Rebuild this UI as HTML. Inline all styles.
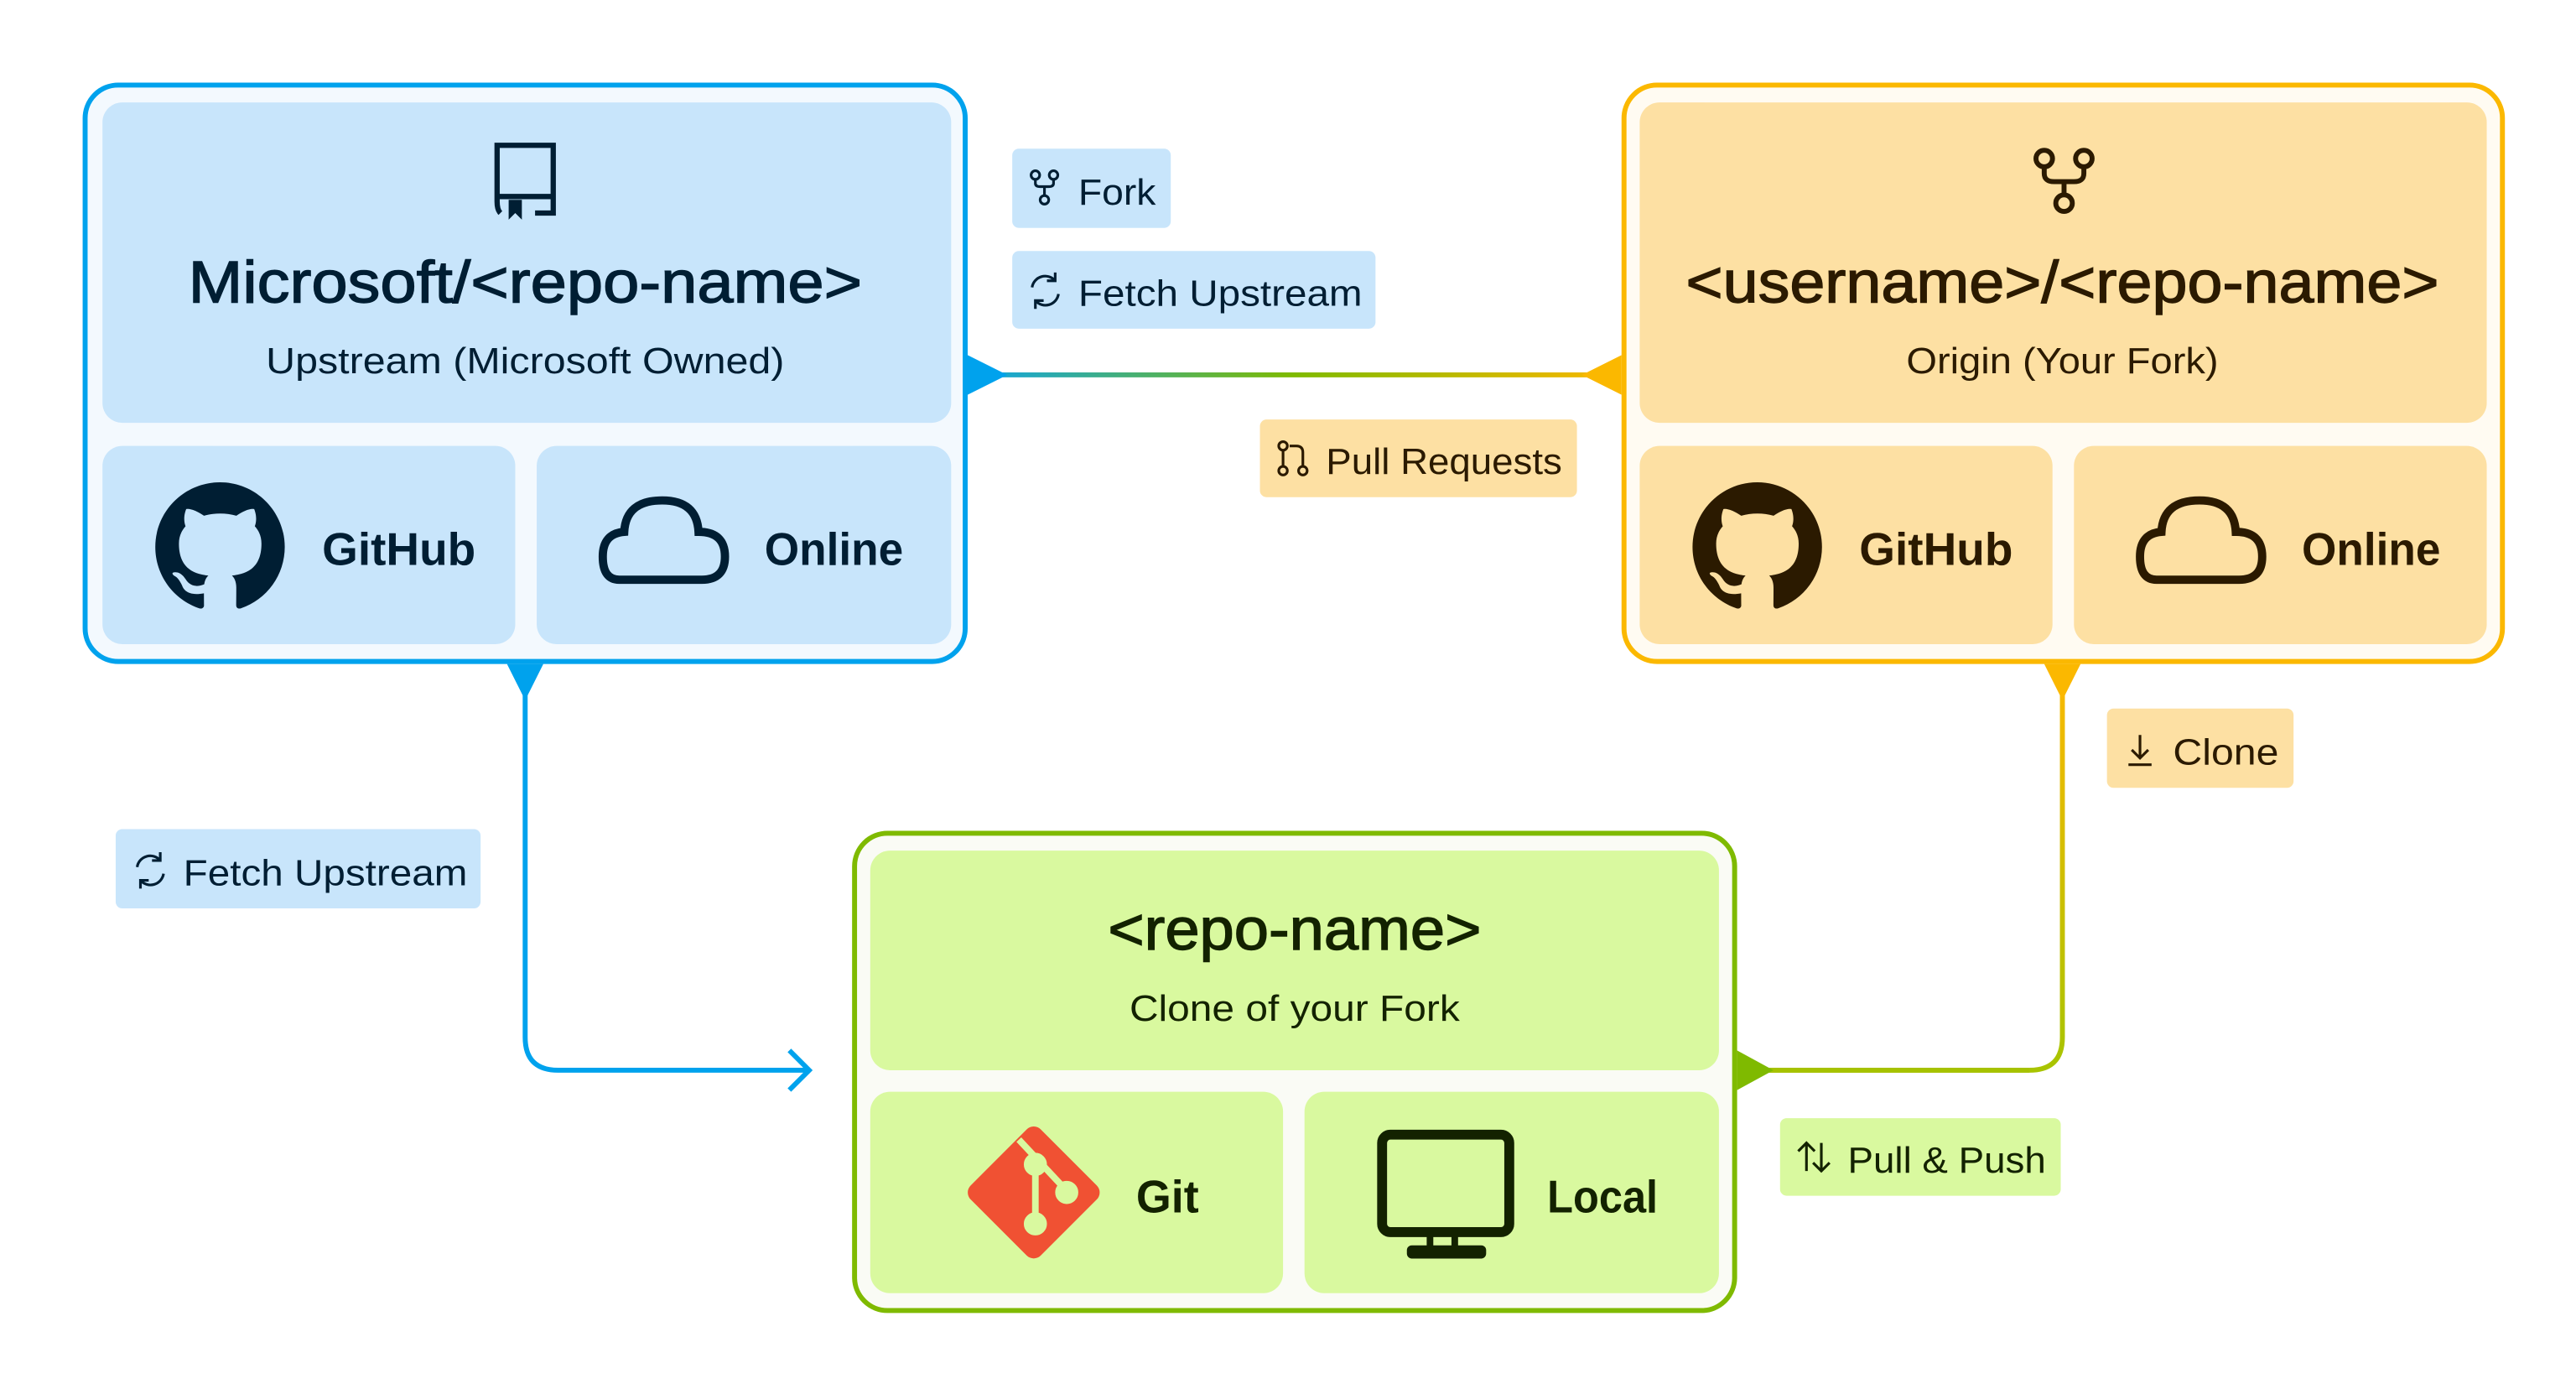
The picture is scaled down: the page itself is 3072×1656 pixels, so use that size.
<!DOCTYPE html>
<html><head><meta charset="utf-8"><style>html,body{margin:0;padding:0;background:#fff}svg{display:block}</style></head>
<body>
<svg width="3072" height="1656" viewBox="0 0 1560 841" xmlns="http://www.w3.org/2000/svg" font-family="Liberation Sans, sans-serif">
<defs>
<linearGradient id="g1" x1="586" y1="0" x2="982" y2="0" gradientUnits="userSpaceOnUse"><stop offset="0" stop-color="#0ea5e9"/><stop offset="0.5" stop-color="#7fba00"/><stop offset="1" stop-color="#fbb800"/></linearGradient>
<linearGradient id="g2" x1="0" y1="402" x2="0" y2="648" gradientUnits="userSpaceOnUse"><stop offset="0" stop-color="#fbb800"/><stop offset="1" stop-color="#a8c400"/></linearGradient>
</defs>

<line x1="600" y1="227" x2="970" y2="227" stroke="url(#g1)" stroke-width="3"/>
<polygon points="586,215 610,227 586,239" fill="#00a2ed"/>
<polygon points="982,215 958,227 982,239" fill="#fbb800"/>

<path d="M318,410 V628 Q318,648 338,648 H490" fill="none" stroke="#00a2ed" stroke-width="3"/>
<polyline points="478,636 490,648 478,660" fill="none" stroke="#00a2ed" stroke-width="3"/>
<polygon points="307,402 329,402 318,424" fill="#00a2ed"/>

<path d="M1249,410 V628 Q1249,648 1229,648 H1060" fill="none" stroke="url(#g2)" stroke-width="3"/>
<line x1="1229" y1="648" x2="1060" y2="648" stroke="#a6c200" stroke-width="3"/>
<polygon points="1238,402 1260,402 1249,424" fill="#fbb800"/>
<polygon points="1052,636 1074,648 1052,660" fill="#7fba00"/>

<rect x="51.5" y="51.5" width="533" height="349" rx="20" fill="#f3f9fe" stroke="#00a2ed" stroke-width="3"/>
<rect x="62" y="62" width="514" height="194" rx="12" fill="#c8e5fb"/>
<rect x="62" y="270" width="250" height="120" rx="12" fill="#c8e5fb"/>
<rect x="325" y="270" width="251" height="120" rx="12" fill="#c8e5fb"/>
<g fill="none" stroke="#001e33" stroke-width="3.2">
<path d="M303,129 Q301,127 301,122 V88 H335 V129 H324"/><line x1="301" y1="119" x2="335" y2="119"/>
</g>
<polygon points="308,121 316,121 316,133 312,129 308,133" fill="#001e33"/>
<text x="318" y="183" text-anchor="middle" font-size="36" fill="#001e33" stroke="#001e33" stroke-width="0.7" textLength="408" lengthAdjust="spacingAndGlyphs">Microsoft/&lt;repo-name&gt;</text>
<text x="318" y="226" text-anchor="middle" font-size="22" fill="#001e33" textLength="314" lengthAdjust="spacingAndGlyphs">Upstream (Microsoft Owned)</text>
<g transform="translate(94,292) scale(4.9)" fill="#001e33"><path d="M8 0C3.58 0 0 3.58 0 8c0 3.54 2.29 6.53 5.47 7.59.4.07.55-.17.55-.38 0-.19-.01-.82-.01-1.490-2.01.37-2.53-.49-2.69-.94-.09-.23-.48-.94-.82-1.130-.28-.15-.68-.52-.01-.53.63-.01 1.08.58 1.23.82.72 1.21 1.87.87 2.33.66.07-.52.28-.87.51-1.070-1.78-.2-3.64-.89-3.64-3.95 0-.87.31-1.59.82-2.15-.08-.2-.36-1.020.08-2.12 0 0 .67-.21 2.2.82.64-.18 1.32-.27 2-.27.68 0 1.36.09 2 .27 1.53-1.04 2.2-.82 2.2-.82.44 1.1.16 1.92.08 2.12.51.56.82 1.27.82 2.15 0 3.07-1.87 3.75-3.65 3.950.29.25.54.73.54 1.48 0 1.07-.01 1.93-.01 2.2 0 .21.15.46.55.38A8.013 8.013 0 0016 8c0-4.42-3.58-8-8-8z"/></g>
<text x="195" y="342" font-size="28" font-weight="bold" fill="#001e33" textLength="93" lengthAdjust="spacingAndGlyphs">GitHub</text>
<path d="M375,351 H425 Q439,351 439,337 Q439,322 423,322 Q422,303 401,303 Q379,303 378,322 Q365,323 365,337 Q365,351 375,351 Z" fill="none" stroke="#001e33" stroke-width="5"/>
<text x="463" y="342" font-size="28" font-weight="bold" fill="#001e33" textLength="84" lengthAdjust="spacingAndGlyphs">Online</text>

<rect x="983.5" y="51.5" width="532" height="349" rx="20" fill="#fffbf2" stroke="#fbb800" stroke-width="3"/>
<rect x="993" y="62" width="513" height="194" rx="12" fill="#fde0a3"/>
<rect x="993" y="270" width="250" height="120" rx="12" fill="#fde0a3"/>
<rect x="1256" y="270" width="250" height="120" rx="12" fill="#fde0a3"/>
<g fill="none" stroke="#2b1a00" stroke-width="3">
<circle cx="1238" cy="96" r="5"/><circle cx="1262" cy="96" r="5"/><circle cx="1250" cy="123" r="5"/>
<path d="M1238,101 V105 Q1238,110 1244,110 H1256 Q1262,110 1262,105 V101 M1250,110 V118"/>
</g>
<text x="1249" y="183" text-anchor="middle" font-size="36" fill="#2b1a00" stroke="#2b1a00" stroke-width="0.7" textLength="456" lengthAdjust="spacingAndGlyphs">&lt;username&gt;/&lt;repo-name&gt;</text>
<text x="1249" y="226" text-anchor="middle" font-size="22" fill="#2b1a00" textLength="189" lengthAdjust="spacingAndGlyphs">Origin (Your Fork)</text>
<g transform="translate(1025,292) scale(4.9)" fill="#2b1a00"><path d="M8 0C3.58 0 0 3.58 0 8c0 3.54 2.29 6.53 5.47 7.59.4.07.55-.17.55-.38 0-.19-.01-.82-.01-1.49-2.01.37-2.53-.49-2.69-.94-.09-.23-.48-.94-.82-1.13-.28-.15-.68-.52-.01-.53.63-.01 1.08.58 1.23.82.72 1.21 1.87.87 2.33.66.07-.52.28-.87.51-1.07-1.78-.2-3.64-.89-3.64-3.95 0-.87.31-1.59.82-2.15-.08-.2-.36-1.02.08-2.12 0 0 .67-.21 2.2.82.64-.18 1.32-.27 2-.27.68 0 1.36.09 2 .27 1.53-1.04 2.2-.82 2.2-.82.44 1.1.16 1.92.08 2.12.51.56.82 1.27.82 2.15 0 3.07-1.87 3.75-3.65 3.95.29.25.54.73.54 1.48 0 1.07-.01 1.93-.01 2.2 0 .21.15.46.55.38A8.013 8.013 0 0016 8c0-4.42-3.58-8-8-8z"/></g>
<text x="1126" y="342" font-size="28" font-weight="bold" fill="#2b1a00" textLength="93" lengthAdjust="spacingAndGlyphs">GitHub</text>
<path d="M1306,351 H1356 Q1370,351 1370,337 Q1370,322 1354,322 Q1353,303 1332,303 Q1310,303 1309,322 Q1296,323 1296,337 Q1296,351 1306,351 Z" fill="none" stroke="#2b1a00" stroke-width="5"/>
<text x="1394" y="342" font-size="28" font-weight="bold" fill="#2b1a00" textLength="84" lengthAdjust="spacingAndGlyphs">Online</text>

<rect x="517.5" y="504.5" width="533" height="289" rx="20" fill="#fafbf5" stroke="#7fba00" stroke-width="3"/>
<rect x="527" y="515" width="514" height="133" rx="12" fill="#d9f99f"/>
<rect x="527" y="661" width="250" height="122" rx="12" fill="#d9f99f"/>
<rect x="790" y="661" width="251" height="122" rx="12" fill="#d9f99f"/>
<text x="784" y="575" text-anchor="middle" font-size="36" fill="#132200" stroke="#132200" stroke-width="0.7" textLength="226" lengthAdjust="spacingAndGlyphs">&lt;repo-name&gt;</text>
<text x="784" y="618" text-anchor="middle" font-size="22" fill="#132200" textLength="200" lengthAdjust="spacingAndGlyphs">Clone of your Fork</text>
<rect x="596" y="692" width="60" height="60" rx="6" transform="rotate(45 626 722)" fill="#f05133"/>
<g stroke="#d9f99f" stroke-width="4" fill="#d9f99f">
<line x1="617" y1="690" x2="645" y2="720" /><line x1="627" y1="708" x2="627" y2="740"/>
<circle cx="627" cy="705" r="5"/><circle cx="646" cy="722" r="5"/><circle cx="627" cy="741" r="5"/>
</g>
<text x="688" y="734" font-size="28" font-weight="bold" fill="#132200" textLength="38" lengthAdjust="spacingAndGlyphs">Git</text>
<rect x="837" y="687" width="77" height="59" rx="5" fill="none" stroke="#132200" stroke-width="6"/>
<rect x="864" y="746" width="4" height="10" fill="#132200"/><rect x="879" y="746" width="4" height="10" fill="#132200"/>
<rect x="852" y="754" width="48" height="8" rx="3" fill="#132200"/>
<text x="937" y="734" font-size="28" font-weight="bold" fill="#132200" textLength="67" lengthAdjust="spacingAndGlyphs">Local</text>

<rect x="613" y="90" width="96" height="48" rx="4" fill="#c8e5fb"/>
<g fill="none" stroke="#001e33" stroke-width="1.6"><circle cx="627" cy="106" r="2.6"/><circle cx="638" cy="106" r="2.6"/><circle cx="632.5" cy="121" r="2.6"/><path d="M627,108.6 V111 Q627,113 630,113 H635 Q638,113 638,111 V108.6 M632.5,113 V118.4"/></g>
<text x="653" y="124" font-size="22" fill="#001e33" textLength="47" lengthAdjust="spacingAndGlyphs">Fork</text>

<rect x="613" y="152" width="220" height="47" rx="4" fill="#c8e5fb"/>
<g fill="none" stroke="#001e33" stroke-width="1.6"><path d="M625,174 A8,8 0 0 1 639,170 M641,178 A8,8 0 0 1 627,182"/><polyline points="639,165 639,170 634,170"/><polyline points="627,187 627,182 632,182"/></g>
<text x="653" y="185" font-size="22" fill="#001e33" textLength="172" lengthAdjust="spacingAndGlyphs">Fetch Upstream</text>

<rect x="763" y="254" width="192" height="47" rx="4" fill="#fde0a3"/>
<g fill="none" stroke="#2b1a00" stroke-width="1.6"><circle cx="777" cy="270" r="2.6"/><circle cx="777" cy="285" r="2.6"/><circle cx="789" cy="285" r="2.6"/><line x1="777" y1="272.6" x2="777" y2="282.4"/><path d="M789,282.4 V274 Q789,270 785,270 H781"/></g>
<text x="803" y="287" font-size="22" fill="#2b1a00" textLength="143" lengthAdjust="spacingAndGlyphs">Pull Requests</text>

<rect x="1276" y="429" width="113" height="48" rx="4" fill="#fde0a3"/>
<g fill="none" stroke="#2b1a00" stroke-width="1.6"><path d="M1296,445 V459 M1291,454 L1296,459 L1301,454 M1289,463 H1303"/></g>
<text x="1316" y="463" font-size="22" fill="#2b1a00" textLength="64" lengthAdjust="spacingAndGlyphs">Clone</text>

<rect x="70" y="502" width="221" height="48" rx="4" fill="#c8e5fb"/>
<g fill="none" stroke="#001e33" stroke-width="1.6"><path d="M83,525 A8,8 0 0 1 97,521 M99,529 A8,8 0 0 1 85,533"/><polyline points="97,516 97,521 92,521"/><polyline points="85,538 85,533 90,533"/></g>
<text x="111" y="536" font-size="22" fill="#001e33" textLength="172" lengthAdjust="spacingAndGlyphs">Fetch Upstream</text>

<rect x="1078" y="677" width="170" height="47" rx="4" fill="#d9f99f"/>
<g fill="none" stroke="#132200" stroke-width="1.6"><path d="M1094,709 V692 M1089,697 L1094,692 L1099,697 M1103,692 V709 M1098,704 L1103,709 L1108,704"/></g>
<text x="1119" y="710" font-size="22" fill="#132200" textLength="120" lengthAdjust="spacingAndGlyphs">Pull &amp; Push</text>
</svg>
</body></html>
